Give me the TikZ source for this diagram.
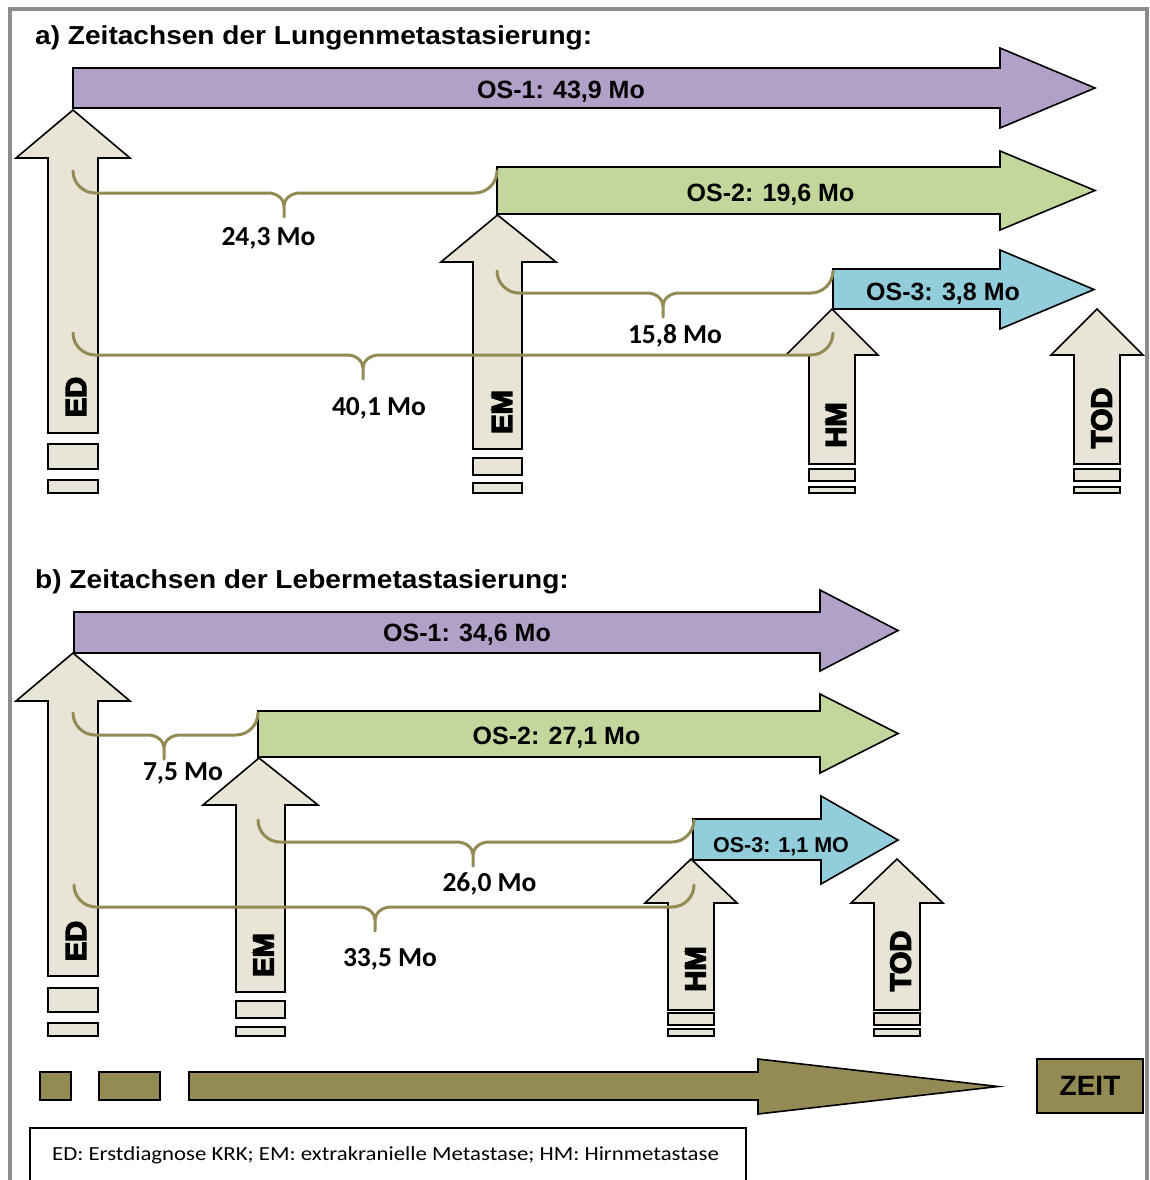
\documentclass[tikz,border=0pt]{standalone}
\usepackage{fontspec}
\usepackage{graphicx}
\setmainfont{Liberation Sans}
\newfontfamily\carlito{Carlito}
\newcommand{\heavytext}[1]{\special{pdf:code q 2 Tr 1.4 w 0 0 0 RG}#1\special{pdf:code Q}}
\definecolor{ospurple}{HTML}{B1A0C7}
\definecolor{osgreen}{HTML}{C3D69B}
\definecolor{osblue}{HTML}{92CDDC}
\definecolor{evbeige}{HTML}{E8E4D6}
\definecolor{brownolive}{HTML}{948A54}
\definecolor{framegray}{HTML}{8C8C8C}
\tikzset{
  shapeline/.style={draw=black, line width=1.6, line join=miter},
  bracestyle/.style={draw=brownolive, line width=3, line join=round, line cap=round},
  oslabel/.style={inner sep=0, text depth=0pt, font=\bfseries\fontsize{25}{30}\selectfont},
  durlabel/.style={inner sep=0, text depth=0pt, font=\carlito\bfseries\fontsize{27.5}{33}\selectfont},
  evlabel/.style={inner sep=0, text depth=0pt, rotate=90, font=\bfseries\fontsize{29}{34}\selectfont},
  titlelabel/.style={anchor=base west, inner sep=0, font=\bfseries\fontsize{26}{30}\selectfont},
}
% horizontal block arrow: x0, head base x, tip x, shaft top, shaft bottom, head top, head bottom, colour
\newcommand{\harrowshape}[8]{%
  \draw[shapeline, fill=#8] (#1,#4) -- (#2,#4) -- (#2,#6) -- (#3,{(#6+#7)/2}) -- (#2,#7) -- (#2,#5) -- (#1,#5) -- cycle;}
% upward block arrow: shaft left, shaft right, wing left, wing right, head base y, tip y, bottom y, tip x
\newcommand{\uparrowshape}[8]{%
  \draw[shapeline, fill=evbeige] (#1,#7) -- (#1,#5) -- (#3,#5) -- (#8,#6) -- (#4,#5) -- (#2,#5) -- (#2,#7) -- cycle;}
\newcommand{\tickrect}[4]{\draw[shapeline, fill=evbeige] (#1,#3) rectangle (#2,#4);}
% duration brace: x1, x2, x middle, y of horizontal line
\newcommand{\durbrace}[4]{%
  \draw[bracestyle] (#1,{#4-22}) .. controls (#1,{#4-10}) and ({#1+10},#4) .. ({#1+22},#4)
    -- ({#3-16},#4) .. controls ({#3-7},#4) and (#3,{#4+6}) .. (#3,{#4+13}) -- (#3,{#4+24})
    (#3,{#4+13}) .. controls (#3,{#4+6}) and ({#3+7},#4) .. ({#3+16},#4)
    -- ({#2-22},#4) .. controls ({#2-10},#4) and (#2,{#4-10}) .. (#2,{#4-22});}
\begin{document}
\begin{tikzpicture}[x=1pt, y=-1pt]
\useasboundingbox (0,0) rectangle (1149,1180);
\fill[white] (0,0) rectangle (1149,1180);
% frame
\draw[framegray, line width=4] (9.5,1182) -- (9.5,9.5) -- (1147,9.5) -- (1147,1182);

% ================= a) =================
\node[titlelabel] (titleA) at (35,45) {\scalebox{1.08}[1]{a) Zeitachsen der Lungenmetastasierung:}};

\harrowshape{73}{1000}{1095}{68}{108}{48}{128}{ospurple}
\harrowshape{497}{1000}{1095}{167}{214}{151}{230}{osgreen}
\harrowshape{833}{1000}{1094}{269}{309}{250}{329}{osblue}

\uparrowshape{48}{98}{16}{130}{158}{110}{433}{73}
\tickrect{48}{98}{444}{469}
\tickrect{48}{98}{480}{493}
\uparrowshape{473}{522}{441}{556}{262}{215}{449}{497.5}
\tickrect{473}{522}{458}{475}
\tickrect{473}{522}{483}{493}
\uparrowshape{809}{855}{786}{878}{355}{309}{464}{832}
\tickrect{809}{855}{469}{481}
\tickrect{809}{855}{487}{493}
\uparrowshape{1074}{1120}{1051}{1143}{355}{309}{464}{1097}
\tickrect{1074}{1120}{469}{481}
\tickrect{1074}{1120}{487}{493}

\durbrace{73}{497}{284}{193}
\durbrace{497}{833}{663}{293}
\durbrace{73}{833}{363}{355}

\node[oslabel] (os1a) at (561,90) {OS-1: 43,9 Mo};
\node[oslabel] (os2a) at (770.5,193) {OS-2: 19,6 Mo};
\node[oslabel] (os3a) at (943,291.5) {OS-3: 3,8 Mo};
\node[durlabel] (d1a) at (268.5,236.5) {24,3 Mo};
\node[durlabel] (d2a) at (675,334.5) {15,8 Mo};
\node[durlabel] (d3a) at (379,406.5) {40,1 Mo};
\node[evlabel] (eda) at (76,397) {\heavytext{ED}};
\node[evlabel] (ema) at (502,412) {\heavytext{EM}};
\node[evlabel] (hma) at (836,425) {\heavytext{HM}};
\node[evlabel] (toda) at (1101.5,418) {\heavytext{TOD}};

% ================= b) =================
\node[titlelabel] (titleB) at (35,588) {\scalebox{1.08}[1]{b) Zeitachsen der Lebermetastasierung:}};

\harrowshape{74}{820}{898}{612}{653}{590}{671}{ospurple}
\harrowshape{258}{820}{898}{711}{757}{694}{773}{osgreen}
\harrowshape{693}{821}{898}{819}{860}{796}{884}{osblue}

\uparrowshape{48}{98}{16}{130}{701}{653}{976}{73}
\tickrect{48}{98}{988}{1012}
\tickrect{48}{98}{1023}{1036}
\uparrowshape{236}{285}{203}{318}{805}{758}{992}{259}
\tickrect{236}{285}{1001}{1018}
\tickrect{236}{285}{1027}{1036}
\uparrowshape{668}{714}{645}{737}{903}{859}{1010}{691}
\tickrect{668}{714}{1013}{1025}
\tickrect{668}{714}{1029}{1036}
\uparrowshape{874}{920}{851}{943}{903}{859}{1010}{897}
\tickrect{874}{920}{1013}{1025}
\tickrect{874}{920}{1029}{1036}

\durbrace{73}{258}{164}{735}
\durbrace{258}{694}{473}{842}
\durbrace{74}{694}{375}{907}

\node[oslabel] (os1b) at (467,633) {OS-1: 34,6 Mo};
\node[oslabel] (os2b) at (556.5,736) {OS-2: 27,1 Mo};
\node[oslabel, font=\bfseries\fontsize{21.5}{26}\selectfont] (os3b) at (781,845) {OS-3: 1,1 MO};
\node[durlabel] (d1b) at (183,772) {7,5 Mo};
\node[durlabel] (d2b) at (489.5,882.5) {26,0 Mo};
\node[durlabel] (d3b) at (390,957.5) {33,5 Mo};
\node[evlabel] (edb) at (76,941) {\heavytext{ED}};
\node[evlabel] (emb) at (263.5,955) {\heavytext{EM}};
\node[evlabel] (hmb) at (695.5,969) {\heavytext{HM}};
\node[evlabel] (todb) at (900.5,961) {\heavytext{TOD}};

% ================= time axis =================
\draw[shapeline, fill=brownolive] (40,1072) rectangle (71,1100);
\draw[shapeline, fill=brownolive] (99,1072) rectangle (160,1100);
\harrowshape{189}{758}{998}{1072}{1100}{1059}{1114}{brownolive}
\node[draw=black, line width=1.6, fill=brownolive, minimum width=106, minimum height=54, inner sep=0,
      font=\bfseries\fontsize{28}{32}\selectfont, text depth=0pt] (zeit) at (1090,1086) {ZEIT};

% legend
\draw[black, line width=1.5] (30,1182) -- (30,1128) -- (746,1128) -- (746,1182);
\node[anchor=base west, inner sep=0, font=\carlito\fontsize{20}{24}\selectfont] (legend) at (52,1160)
  {\scalebox{1.14}[1]{ED: Erstdiagnose KRK; EM: extrakranielle Metastase; HM: Hirnmetastase}};
\end{tikzpicture}
\end{document}
